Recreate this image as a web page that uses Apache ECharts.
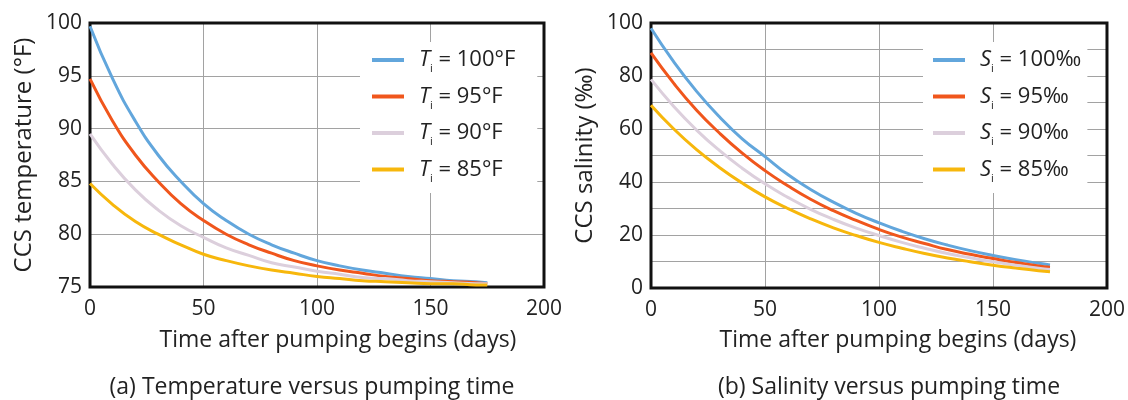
<!DOCTYPE html>
<html>
<head>
<meta charset="utf-8">
<script src="https://cdn.jsdelivr.net/npm/echarts@6/dist/echarts.min.js"></script>
<style>
  html, body { margin: 0; padding: 0; background: #fff; }
  #chart { width: 1128px; height: 400px; }
</style>
</head>
<body>
<div id="chart"></div>
<script>
// days after pumping begins (shared by both panels)
const days = [0, 10, 20, 30, 40, 50, 60, 70, 80, 90, 100, 110, 120, 130, 140, 150, 160, 170, 175];

// (a) CCS temperature, degF
const tempLabels = ['100°F', '95°F', '90°F', '85°F'];
const temp100 = [99.7, 94.7, 90.7, 87.5, 85.0, 82.9, 81.3, 80.0, 79.0, 78.2, 77.5, 77.0, 76.6, 76.3, 76.0, 75.8, 75.6, 75.5, 75.4];
const temp95 = [94.7, 90.7, 87.5, 85.0, 82.9, 81.3, 80.0, 79.0, 78.2, 77.5, 77.0, 76.6, 76.3, 76.0, 75.8, 75.6, 75.5, 75.4, 75.3];
const temp90 = [89.5, 86.6, 84.2, 82.3, 80.8, 79.7, 78.7, 78.0, 77.3, 76.9, 76.5, 76.2, 75.9, 75.8, 75.6, 75.5, 75.4, 75.3, 75.3];
const temp85 = [84.8, 82.8, 81.2, 80.0, 79.0, 78.1, 77.5, 77.0, 76.6, 76.3, 76.0, 75.8, 75.6, 75.5, 75.4, 75.3, 75.3, 75.2, 75.2];

// (b) CCS salinity, per mille
const salLabels = ['100‰', '95‰', '90‰', '85‰'];
const sal100 = [98.0, 85.3, 74.2, 64.6, 56.3, 49.6, 42.8, 37.2, 32.4, 28.2, 24.6, 21.4, 18.6, 16.2, 14.1, 12.3, 10.7, 9.3, 8.7];
const sal95 = [88.7, 77.2, 67.1, 58.5, 50.9, 44.3, 38.6, 33.5, 29.2, 25.5, 22.1, 19.2, 16.8, 14.5, 12.7, 11.1, 9.6, 8.3, 7.8];
const sal90 = [78.7, 68.5, 59.6, 51.9, 45.2, 39.3, 34.2, 29.7, 25.9, 22.6, 19.8, 17.2, 15.0, 13.0, 11.4, 9.9, 8.6, 7.5, 7.0];
const sal85 = [69.0, 60.0, 52.2, 45.5, 39.6, 34.4, 30.0, 26.1, 22.7, 19.8, 17.2, 15.0, 13.0, 11.3, 9.9, 8.6, 7.5, 6.5, 6.1];

const xTicks = [0, 50, 100, 150, 200];

const colors = ['#62a6dc', '#f0561c', '#dccfdc', '#f7b70c'];
const font = '"Open Sans", "Noto Sans", sans-serif';
const ink = '#222';

const pairs = (ys) => days.map((d, i) => [d, ys[i]]);

const chart = echarts.init(document.getElementById('chart'));

function lineSeries(name, ys, idx, color) {
    return {
        name: name,
        type: 'line',
        xAxisIndex: idx,
        yAxisIndex: idx,
        data: pairs(ys),
        smooth: true,
        showSymbol: false,
        lineStyle: {color: color, width: 3},
        itemStyle: {color: color},
        z: 3,
    };
}

function legendFor(names, letter, left, top, padding) {
    return {
        data: names,
        orient: 'vertical',
        left: left,
        top: top,
        padding: padding,
        backgroundColor: '#fff',
        icon: 'rect',
        itemWidth: 32,
        itemHeight: 4,
        itemGap: 11,
        z: 5,
        formatter: (n) => `{it|${letter}}{sub|i}{n| = ${n.split(' ')[1]}}`,
        textStyle: {
            fontFamily: font,
            color: ink,
            padding: [0, 0, 0, 10],
            rich: {
                it: {fontStyle: 'italic', fontSize: 22, fontFamily: font, color: ink},
                sub: {fontSize: 11, fontFamily: font, color: ink, padding: [18, 0, 0, 0]},
                n: {fontSize: 22, fontFamily: font, color: ink},
            },
        },
    };
}

const axisText = {fontFamily: font, fontSize: 21, color: ink};
const titleText = {fontFamily: font, fontSize: 24, color: ink};
const grid = '#a2a2a2';
const caption = (text, x, y) => ({
    type: 'text', x: x, y: y,
    style: {text: text, font: '23px ' + font, fill: ink, textAlign: 'center', textVerticalAlign: 'middle'},
});

chart.setOption({
    animation: false,
    grid: [
        {left: 90, top: 23, width: 454, height: 264, show: true, z: 2, borderColor: '#111', borderWidth: 3, backgroundColor: 'transparent'},
        {left: 651, top: 23, width: 457, height: 265, show: true, z: 2, borderColor: '#111', borderWidth: 3, backgroundColor: 'transparent'},
    ],
    xAxis: [0, 1].map((i) => ({
        type: 'value',
        gridIndex: i,
        min: xTicks[0],
        max: xTicks[xTicks.length - 1],
        interval: 50,
        axisLine: {show: false},
        axisTick: {show: false},
        axisLabel: Object.assign({margin: 12}, axisText),
        splitLine: {show: true, lineStyle: {color: grid, width: 1}},
    })),
    yAxis: [
        {
            type: 'value',
            gridIndex: 0,
            min: 75,
            max: 100,
            interval: 5,
            name: 'CCS temperature (°F)',
            nameLocation: 'middle',
            nameGap: 54,
            nameTextStyle: titleText,
            axisLine: {show: false},
            axisTick: {show: false},
            axisLabel: Object.assign({margin: 8}, axisText),
            splitLine: {show: true, lineStyle: {color: grid, width: 1}},
        },
        {
            type: 'value',
            gridIndex: 1,
            min: 0,
            max: 100,
            interval: 10,
            name: 'CCS salinity (‰)',
            nameLocation: 'middle',
            nameGap: 54,
            nameTextStyle: titleText,
            axisLine: {show: false},
            axisTick: {show: false},
            axisLabel: Object.assign({margin: 8, formatter: (v) => (v % 20 === 0 ? v : '')}, axisText),
            splitLine: {show: true, lineStyle: {color: grid, width: 1}},
        },
    ],
    legend: [
        legendFor(tempLabels.map((t) => 'T ' + t), 'T', 360, 42, [7, 22, 9, 12]),
        legendFor(salLabels.map((s) => 'S ' + s), 'S', 923, 42, [7, 6, 9, 10]),
    ],
    graphic: [
        caption('Time after pumping begins (days)', 338, 340),
        caption('(a) Temperature versus pumping time', 312, 387),
        caption('Time after pumping begins (days)', 898, 340),
        caption('(b) Salinity versus pumping time', 889, 387),
    ],
    series: [
        lineSeries('T ' + tempLabels[0], temp100, 0, colors[0]),
        lineSeries('T ' + tempLabels[1], temp95, 0, colors[1]),
        lineSeries('T ' + tempLabels[2], temp90, 0, colors[2]),
        lineSeries('T ' + tempLabels[3], temp85, 0, colors[3]),
        lineSeries('S ' + salLabels[0], sal100, 1, colors[0]),
        lineSeries('S ' + salLabels[1], sal95, 1, colors[1]),
        lineSeries('S ' + salLabels[2], sal90, 1, colors[2]),
        lineSeries('S ' + salLabels[3], sal85, 1, colors[3]),
    ],
});
</script>
</body>
</html>
